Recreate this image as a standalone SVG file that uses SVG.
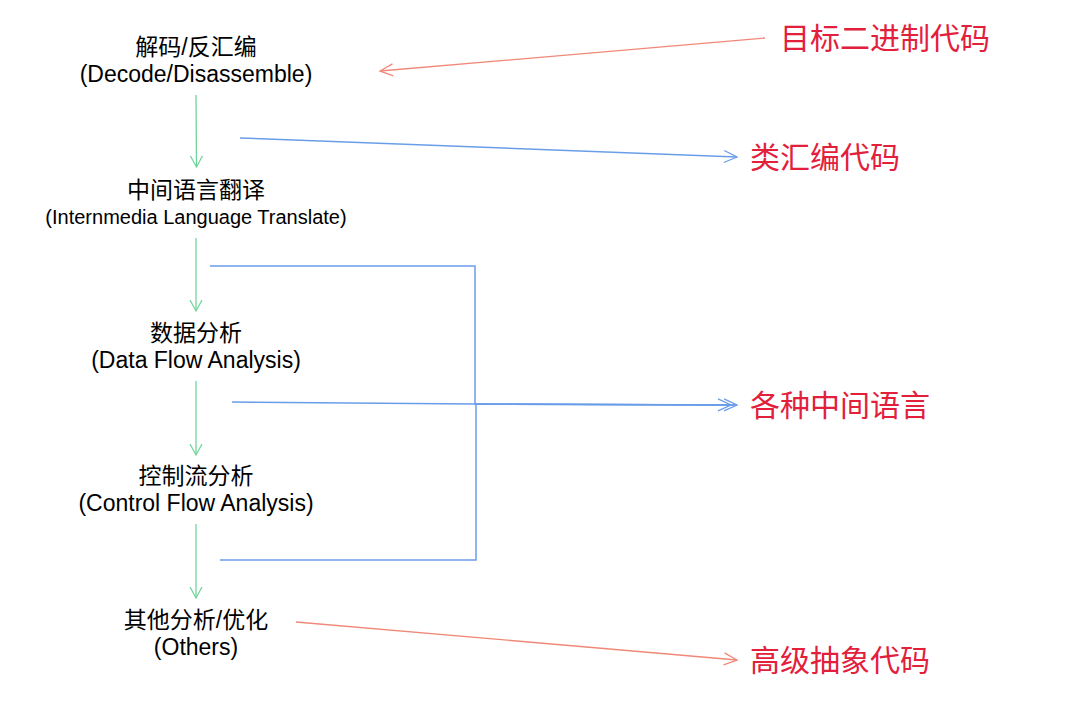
<svg xmlns="http://www.w3.org/2000/svg" width="1090" height="721" viewBox="0 0 1090 721">
<style>
.n{font-family:"Liberation Sans","Noto Sans CJK SC",sans-serif;font-size:23px;fill:#000;text-anchor:middle}
.s{font-size:20px}
.r{font-family:"Noto Sans CJK SC",sans-serif;font-size:30px;fill:#e2203c}
.g{stroke:#72d49c;stroke-width:1.3;fill:none}
.b{stroke:#6a9de8;stroke-width:1.5;fill:none}
.o{stroke:#f08878;stroke-width:1.3;fill:none}
</style>
<defs>
<marker id="ag" markerWidth="14" markerHeight="14" refX="12" refY="7" orient="auto" markerUnits="userSpaceOnUse"><path d="M1,1 L12,7 L1,13" fill="none" stroke="#72d49c" stroke-width="1.3"/></marker>
<marker id="ab" markerWidth="16" markerHeight="14" refX="14" refY="7" orient="auto" markerUnits="userSpaceOnUse"><path d="M1,1 L14,7 L1,13" fill="none" stroke="#6a9de8" stroke-width="1.3"/></marker>
<marker id="ao" markerWidth="16" markerHeight="14" refX="14" refY="7" orient="auto" markerUnits="userSpaceOnUse"><path d="M1,1 L14,7 L1,13" fill="none" stroke="#f08878" stroke-width="1.3"/></marker>
</defs>
<rect width="1090" height="721" fill="#fff"/>
<g id="connectors">
<line class="g" x1="196" y1="95" x2="196.5" y2="167" marker-end="url(#ag)"/>
<line class="g" x1="196" y1="238" x2="196" y2="311" marker-end="url(#ag)"/>
<line class="g" x1="196" y1="381" x2="196" y2="455" marker-end="url(#ag)"/>
<line class="g" x1="196" y1="524" x2="196" y2="598" marker-end="url(#ag)"/>
<line class="o" x1="765" y1="38" x2="380" y2="71" marker-end="url(#ao)"/>
<line class="b" x1="240" y1="138" x2="737" y2="157" marker-end="url(#ab)"/>
<polyline class="b" points="210,266 475,266 475,404 737,405" marker-end="url(#ab)"/>
<polyline class="b" points="232,402 475,404 731,405" marker-end="url(#ab)"/>
<polyline class="b" points="220,560 476,560 476,404 737,405"/>
<line class="o" x1="296" y1="622" x2="737" y2="660" marker-end="url(#ao)"/>
</g>
<g id="n1"><text class="n" x="196" y="55">解码/反汇编</text><text class="n" x="196" y="82">(Decode/Disassemble)</text></g>
<g id="n2"><text class="n" x="196" y="198">中间语言翻译</text><text class="n s" x="196" y="224">(Internmedia Language Translate)</text></g>
<g id="n3"><text class="n" x="196" y="341">数据分析</text><text class="n" x="196" y="368">(Data Flow Analysis)</text></g>
<g id="n4"><text class="n" x="196" y="484">控制流分析</text><text class="n" x="196" y="511">(Control Flow Analysis)</text></g>
<g id="n5"><text class="n" x="196" y="628">其他分析/优化</text><text class="n" x="196" y="655">(Others)</text></g>
<g id="l1"><text class="r" x="780" y="49">目标二进制代码</text></g>
<g id="l2"><text class="r" x="750" y="168">类汇编代码</text></g>
<g id="l3"><text class="r" x="750" y="416">各种中间语言</text></g>
<g id="l4"><text class="r" x="750" y="671">高级抽象代码</text></g>
</svg>
